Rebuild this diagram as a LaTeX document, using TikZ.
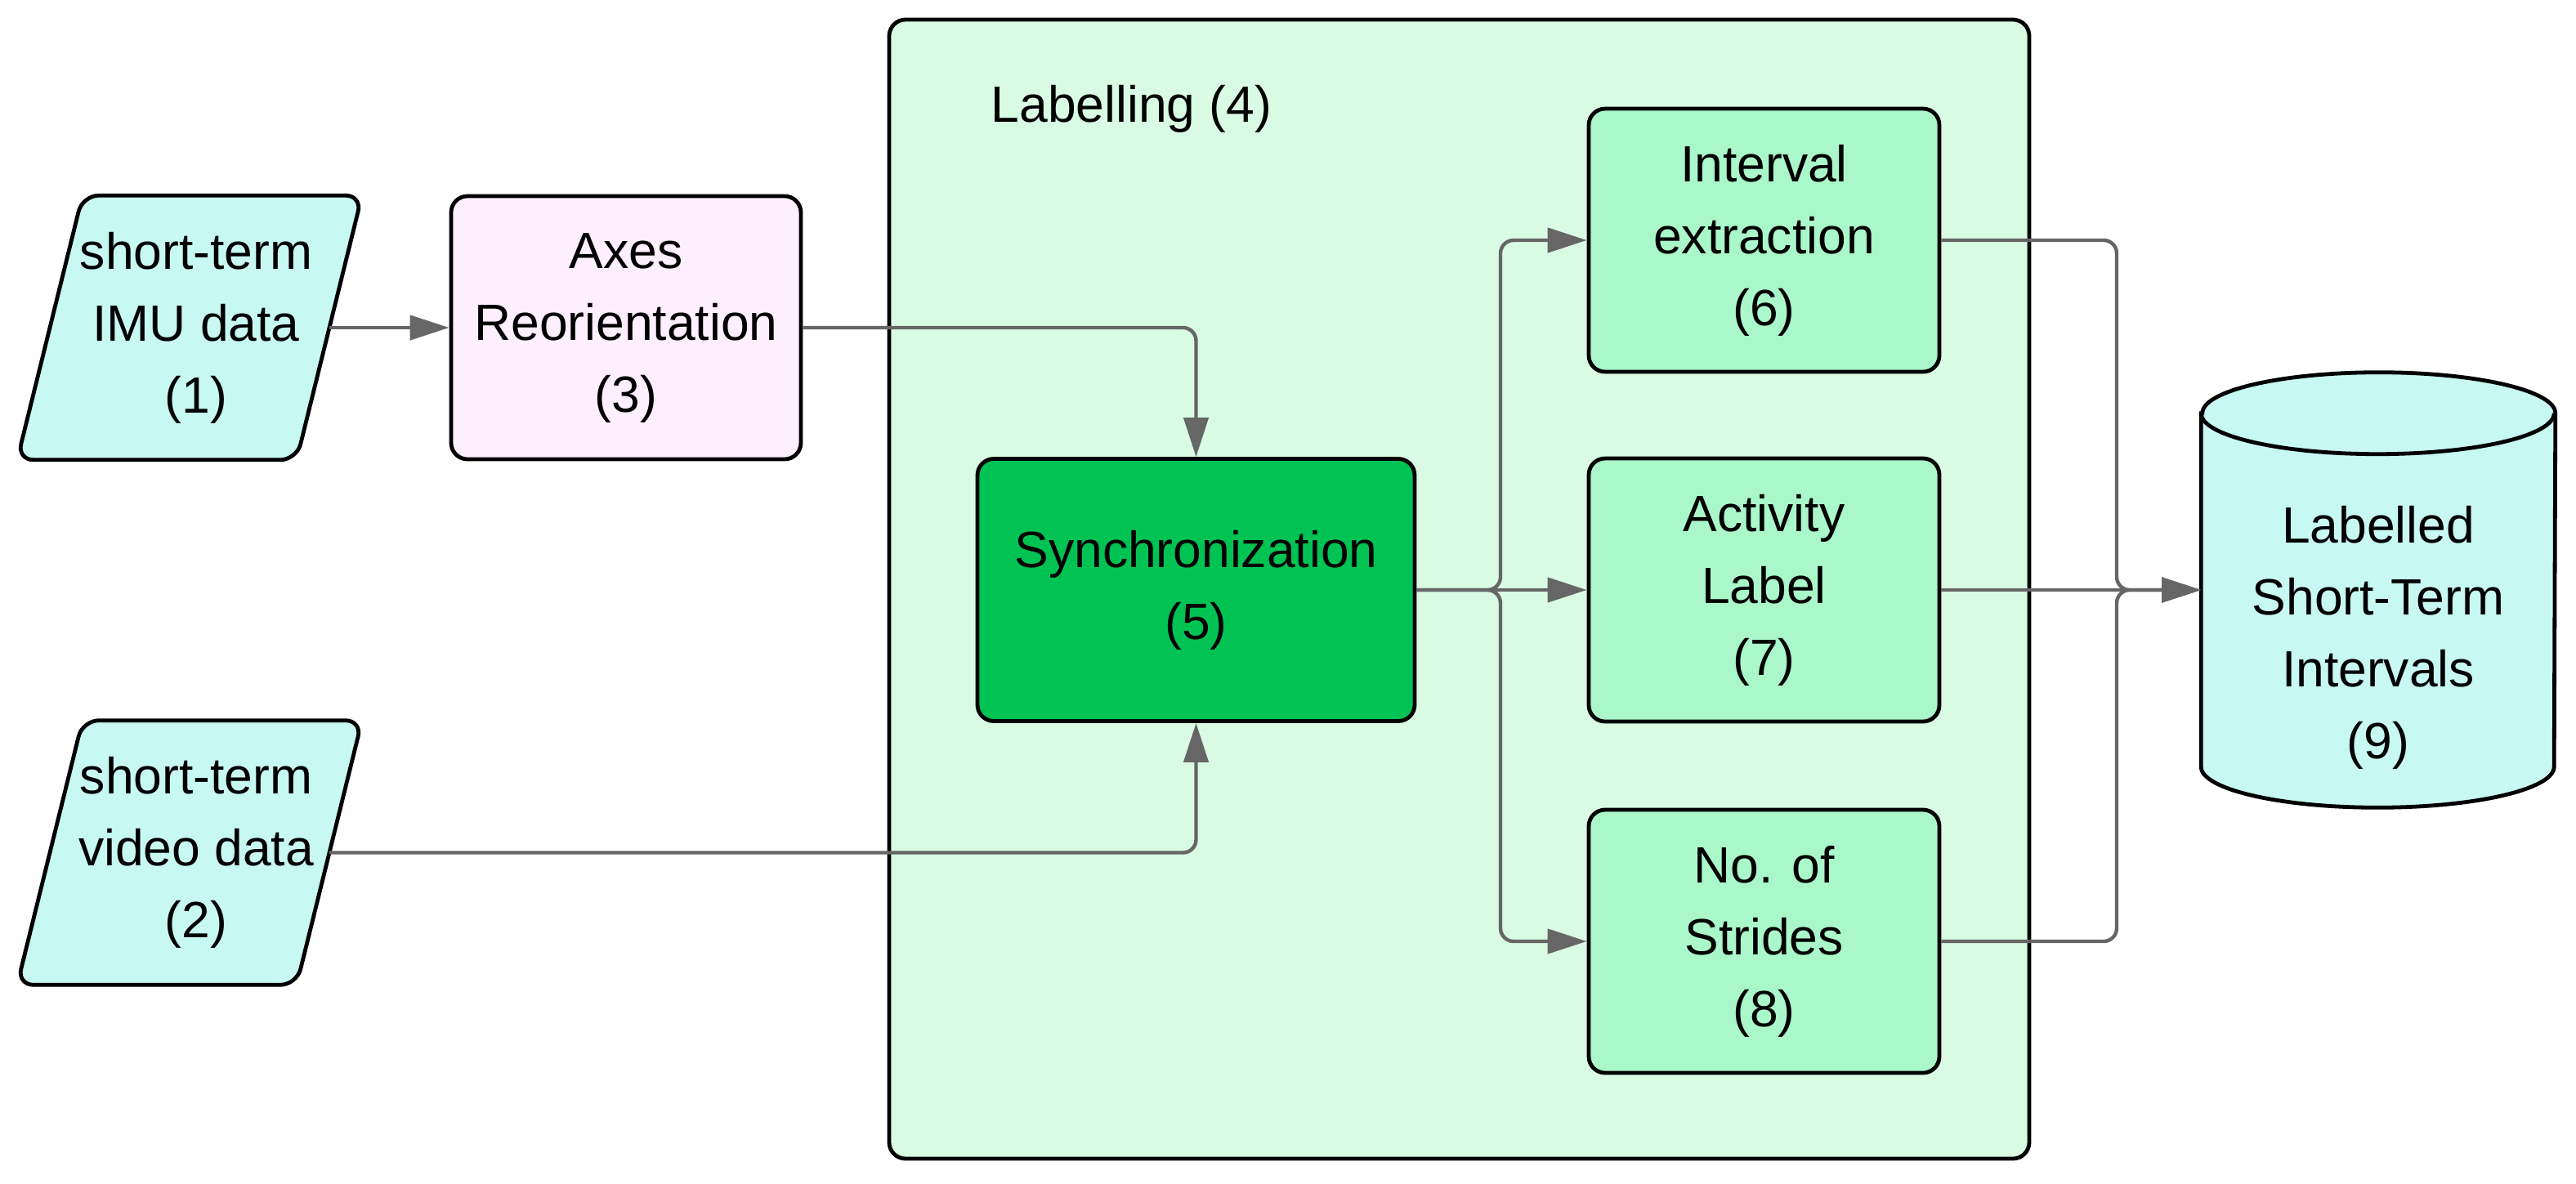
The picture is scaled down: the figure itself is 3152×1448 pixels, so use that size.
\documentclass[tikz,border=0pt]{standalone}
\usepackage{fontspec}
\setmainfont{Liberation Sans}
\usetikzlibrary{arrows.meta}
\definecolor{cyanfill}{HTML}{C7F8F1}
\definecolor{pinkfill}{HTML}{FDEFFD}
\definecolor{grpfill}{HTML}{D9FAE3}
\definecolor{darkgreen}{HTML}{00C353}
\definecolor{midgreen}{HTML}{AAF7C9}
\definecolor{linegray}{HTML}{666666}
\begin{document}
\begin{tikzpicture}[x=0.25pt,y=-0.25pt,
  txt/.style={font=\fontsize{15.6}{22}\selectfont, align=center, text=black},
  box/.style={txt, draw=black, line width=1.2pt, rounded corners=5pt, inner sep=0pt, minimum width=107.25pt, minimum height=80.5pt},
  conn/.style={draw=linegray, line width=1.1pt, rounded corners=4pt, -{Triangle[length=12pt,width=7.5pt]}},
  paranode/.style={inner sep=0pt, minimum width=85.1pt, minimum height=80.5pt},
  parashape/.style={fill=cyanfill, draw=black, line width=1.2pt, rounded corners=5pt},
  cylshape/.style={fill=cyanfill, draw=black, line width=1.2pt}]

\useasboundingbox (0,0) rectangle (3152,1448);

% group container
\node[draw=black, fill=grpfill, line width=1.2pt, rounded corners=5pt, minimum width=348.75pt, minimum height=348.5pt, inner sep=0pt] (lab) at (1785.5,721) {};
\node[txt, anchor=west, inner sep=0pt] (labtitle) at (1212,133) {Labelling (4)};

% input parallelograms
\node[paranode] (imu) at (232,401) {};
\draw[parashape] ([xshift=10pt]imu.north west) -- ([xshift=10pt]imu.north east) -- ([xshift=-10pt]imu.south east) -- ([xshift=-10pt]imu.south west) -- cycle;
\node[txt] (imutext) at ([xshift=2pt]imu.center) {short-term\\IMU data\\(1)};

\node[paranode] (video) at (232,1043.5) {};
\draw[parashape] ([xshift=10pt]video.north west) -- ([xshift=10pt]video.north east) -- ([xshift=-10pt]video.south east) -- ([xshift=-10pt]video.south west) -- cycle;
\node[txt] (videotext) at ([xshift=2pt]video.center) {short-term\\video data\\(2)};

% process boxes
\node[box, fill=pinkfill, minimum width=107pt] (axes) at (766,401) {Axes\\Reorientation\\(3)};
\node[box, fill=darkgreen, minimum width=133.75pt, minimum height=80.25pt] (sync) at (1463.5,722) {Synchronization\\(5)};
\node[box, fill=midgreen] (interval) at (2158.5,294) {Interval\\extraction\\(6)};
\node[box, fill=midgreen] (activity) at (2158.5,722) {Activity\\Label\\(7)};
\node[box, fill=midgreen] (strides) at (2158.5,1152) {No. of\\Strides\\(8)};

% database cylinder
\node[inner sep=0pt, minimum width=108pt, minimum height=132.75pt] (db) at (2910,722) {};
\draw[cylshape] ([yshift=-12.5pt]db.north west) -- ([yshift=12.5pt]db.south west)
  arc[start angle=180, end angle=360, x radius=54pt, y radius=12.5pt]
  -- ([yshift=-12.5pt]db.north east)
  arc[start angle=0, end angle=180, x radius=54pt, y radius=12.5pt] -- cycle;
\draw[line width=1.2pt] ([yshift=-12.5pt]db.north west) arc[start angle=180, end angle=360, x radius=54pt, y radius=12.5pt];
\node[txt] (dbtext) at ([yshift=-14.5pt]db.center) {Labelled\\Short-Term\\Intervals\\(9)};

% connectors
\coordinate (j1) at (1836,722);
\coordinate (j2) at (2590,722);
\draw[conn] (imu.east) -- (axes.west);
\draw[conn] (axes.east) -| (sync.north);
\draw[conn] (video.east) -| (sync.south);
\draw[conn] (sync.east) -- (j1) |- (interval.west);
\draw[conn] (sync.east) -- (activity.west);
\draw[conn] (sync.east) -- (j1) |- (strides.west);
\draw[conn] (interval.east) -| (j2) -- (db.west);
\draw[conn] (activity.east) -- (db.west);
\draw[conn] (strides.east) -| (j2) -- (db.west);
\end{tikzpicture}
\end{document}
